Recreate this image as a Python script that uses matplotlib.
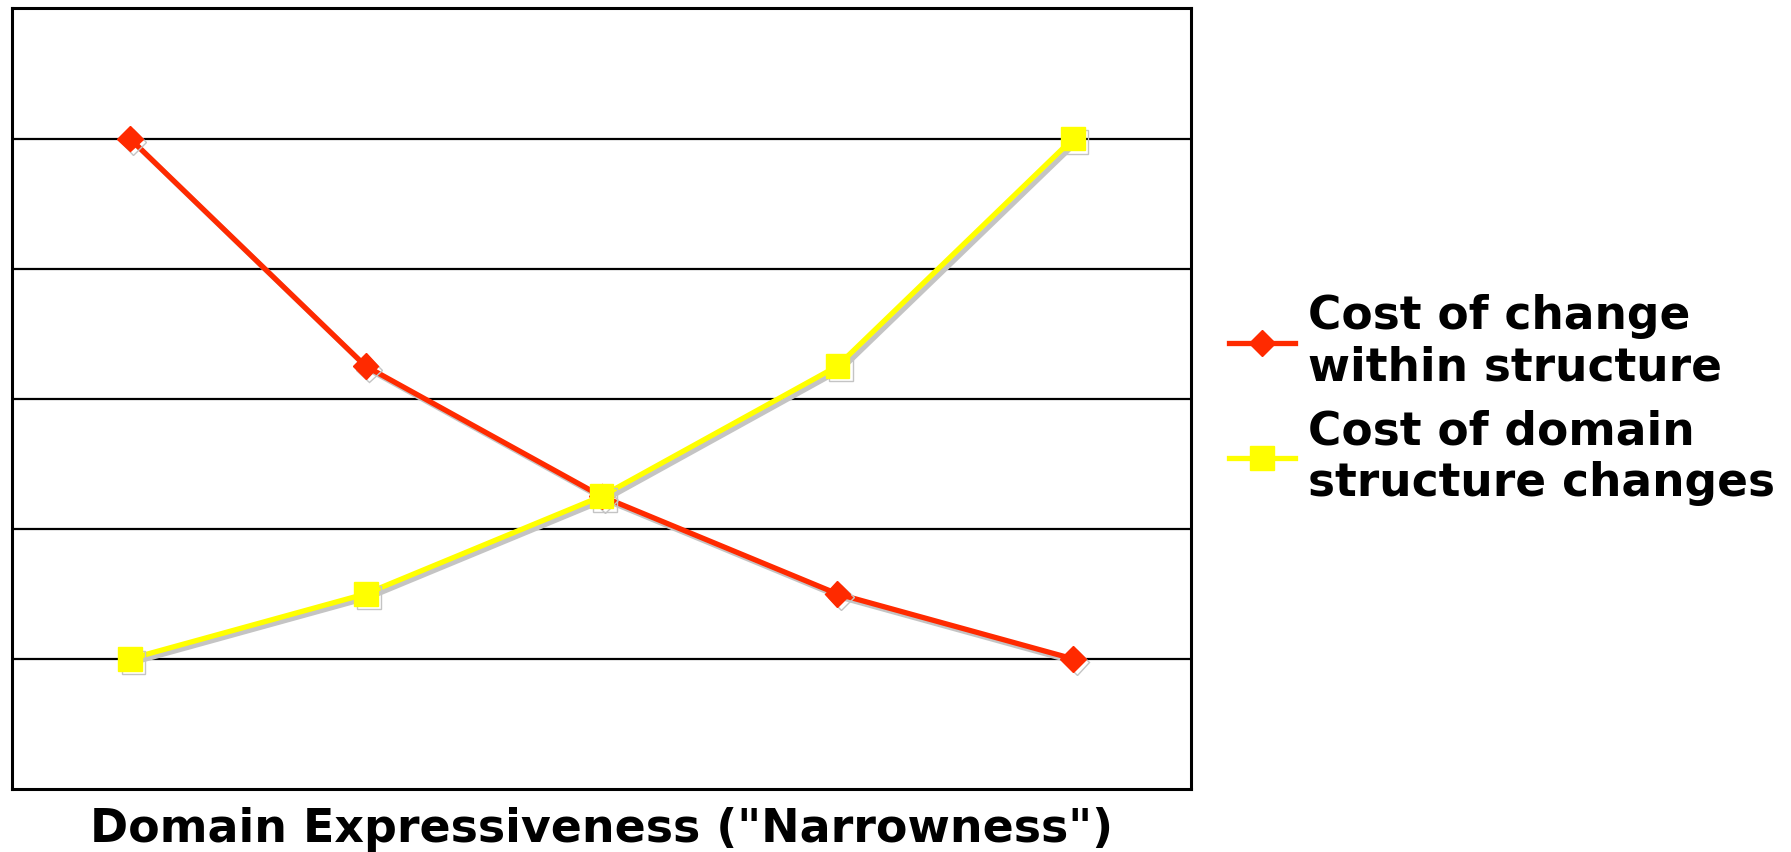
import matplotlib
matplotlib.use("Agg")
import matplotlib.pyplot as plt
import matplotlib.patheffects as pe

# expressiveness steps, left (broad) to right (narrow)
steps = [0, 1, 2, 3, 4]
cost_within = [5.0, 3.25, 2.25, 1.5, 1.0]
cost_structure = [1.0, 1.5, 2.25, 3.25, 5.0]
labels = ["Cost of change\nwithin structure", "Cost of domain\nstructure changes"]
xlabel = 'Domain Expressiveness ("Narrowness")'

plt.rcParams['font.family'] = ['DejaVu Sans']

fig = plt.figure(figsize=(17.91, 8.53), dpi=100)
ax = fig.add_axes([0.0067, 0.0739, 0.6583, 0.915])

shadow = [pe.SimpleLineShadow(offset=(2.5, -2.5), shadow_color='#c4c4c4', alpha=1.0), pe.Normal()]

ax.plot(steps, cost_within, color='#ff2a00', lw=3.8, marker='D', ms=13,
        mec='#ff2a00', label=labels[0], path_effects=shadow, zorder=3)
ax.plot(steps, cost_structure, color='#ffff00', lw=3.8, marker='s', ms=17,
        mec='#ffff00', label=labels[1], path_effects=shadow, zorder=4)

ax.set_xlim(-0.5, 4.5)
ax.set_ylim(0, 6)
for y in [1, 2, 3, 4, 5]:
    ax.axhline(y, color='black', lw=1.6, zorder=1)
ax.set_xticks([])
ax.set_yticks([])
for s in ax.spines.values():
    s.set_linewidth(2.2)

ax.set_xlabel(xlabel, fontsize=33, fontweight='bold', labelpad=12)

leg = fig.legend(loc='center left', bbox_to_anchor=(0.686, 0.531), frameon=False,
                 prop={'size': 32.8, 'weight': 'bold'}, handlelength=1.45,
                 handletextpad=0.3, labelspacing=0.4, borderpad=0, borderaxespad=0)
for line in leg.get_lines():
    line.set_path_effects([])

fig.savefig('out.png', dpi=100)
